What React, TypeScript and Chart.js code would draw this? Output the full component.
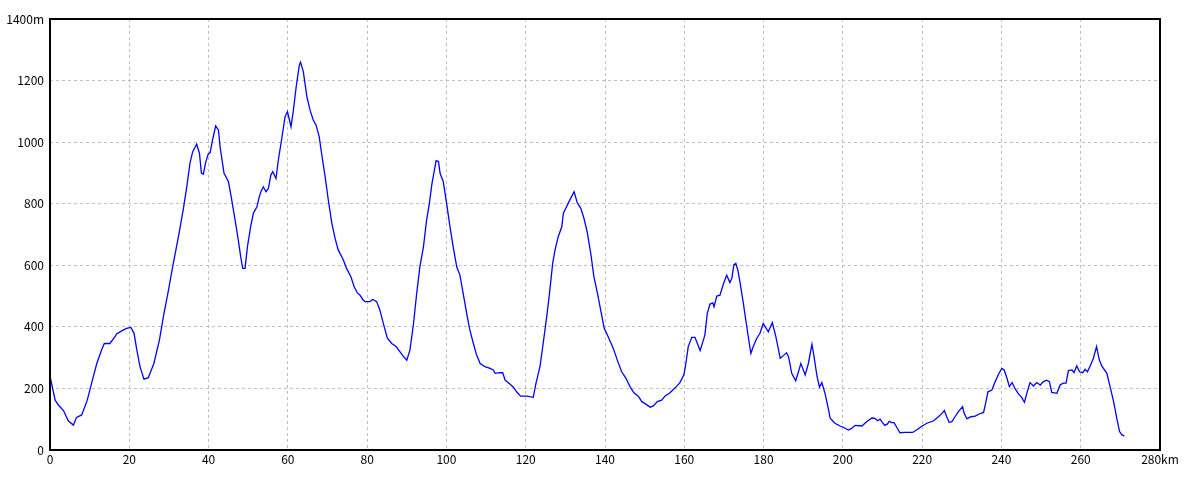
import React, { useEffect, useRef } from "react";
import { Chart, registerables } from "chart.js";

Chart.register(...registerables);

const distanceKm: number[] = [
  0, 1.3, 2.1, 3.4, 4.6, 5.9, 6.7, 8.0, 9.4, 10.5, 11.8, 13.0, 13.7, 15.1, 16.4, 16.8, 18.1, 19.3, 20.4,
  21.2, 21.9, 22.7, 23.7, 24.8, 26.2, 27.6, 28.6, 29.9, 31.1, 32.4, 33.6, 34.5, 35.3, 36.0, 37.0, 37.7,
  38.2, 38.7, 39.2, 39.9, 40.4, 41.0, 41.8, 42.5, 42.9, 43.9, 45.0, 45.7, 46.7, 47.5, 48.1, 48.6, 49.2,
  49.8, 50.6, 51.3, 52.2, 52.8, 53.2, 53.8, 54.5, 55.1, 55.7, 56.2, 57.0, 57.6, 58.4, 59.3, 59.9, 60.4,
  60.8, 61.4, 62.1, 62.9, 63.2, 63.9, 64.8, 65.6, 66.4, 67.1, 67.9, 68.5, 69.4, 70.2, 71.1, 71.9, 72.7,
  74.0, 74.8, 75.9, 76.7, 77.5, 78.2, 78.9, 79.5, 80.7, 81.4, 82.4, 83.2, 84.3, 85.1, 86.2, 87.3, 88.3,
  89.1, 90.0, 90.8, 91.7, 92.5, 93.3, 94.2, 95.0, 95.7, 96.3, 96.9, 97.4, 98.0, 98.4, 99.2, 100.1, 100.9,
  101.7, 102.6, 103.4, 104.3, 105.1, 105.9, 106.8, 107.6, 108.5, 109.7, 111.0, 111.8, 112.3, 113.5, 114.2,
  114.8, 116.0, 116.9, 117.7, 118.7, 120.3, 121.9, 122.6, 123.6, 124.4, 125.3, 126.0, 126.8, 127.4, 128.2,
  129.1, 129.5, 130.3, 131.2, 132.2, 133.0, 133.9, 134.7, 135.5, 136.4, 137.2, 138.1, 138.9, 139.8, 140.8,
  142.1, 143.1, 144.2, 145.3, 146.3, 147.3, 148.4, 149.3, 150.3, 151.4, 152.2, 153.2, 154.3, 155.1, 156.4,
  157.7, 158.9, 159.9, 160.4, 161.0, 161.9, 162.7, 163.3, 164.0, 164.7, 165.2, 165.8, 166.5, 167.2, 167.5,
  168.2, 169.0, 169.9, 170.7, 171.5, 172.0, 172.5, 173.0, 173.5, 174.1, 174.9, 175.7, 176.4, 176.8, 177.4,
  178.3, 179.1, 179.9, 181.2, 182.2, 183.1, 184.2, 185.2, 185.8, 186.3, 187.1, 188.1, 188.8, 189.4, 190.5,
  191.3, 192.2, 192.6, 193.5, 194.1, 194.7, 195.5, 196.4, 196.8, 198.0, 199.3, 200.1, 201.4, 202.2, 203.1,
  204.8, 206.0, 207.3, 208.1, 208.7, 209.4, 210.0, 210.6, 211.2, 211.7, 212.3, 212.9, 213.6, 214.4, 215.7,
  217.6, 218.6, 220.0, 221.2, 222.9, 224.1, 225.0, 225.6, 226.2, 226.8, 227.5, 228.3, 229.1, 230.2, 230.6,
  231.3, 232.3, 233.4, 234.4, 235.5, 236.1, 236.6, 237.6, 238.4, 239.3, 240.1, 240.7, 241.4, 242.0, 242.7,
  243.4, 244.3, 245.1, 245.8, 246.4, 247.2, 248.1, 248.9, 249.8, 250.6, 251.4, 252.1, 252.7, 254.0, 254.8,
  255.6, 256.3, 256.9, 257.8, 258.3, 259.0, 259.7, 260.5, 261.1, 261.7, 262.5, 263.2, 264.0, 264.7, 265.3,
  266.6, 267.4, 268.3, 269.1, 269.8, 270.4, 271.0,
];

const elevationM: number[] = [
  240, 162, 146, 128, 95, 81, 106, 114, 162, 217, 281, 325, 346, 346, 368, 377, 387, 395, 398,
  379, 325, 271, 230, 235, 281, 357, 433, 520, 606, 693, 780, 855, 931, 969, 993, 964,
  899, 896, 931, 961, 966, 1007, 1053, 1039, 985, 899, 872, 823, 747, 682, 628, 590, 590,
  660, 725, 769, 790, 823, 839, 855, 839, 850, 893, 904, 882, 942, 1007, 1083, 1099, 1072,
  1050, 1104, 1180, 1251, 1260, 1229, 1148, 1104, 1072, 1056, 1018, 964, 888, 812, 736, 688, 650,
  617, 590, 563, 531, 511, 503, 489, 482, 482, 489, 482, 455, 401, 363, 346, 336, 319,
  305, 292, 325, 411, 509, 595, 660, 747, 801, 861, 904, 940, 937, 899, 872, 796, 725,
  660, 595, 568, 503, 444, 390, 346, 309, 281, 271, 265, 260, 249, 251, 251,
  227, 214, 204, 189, 175, 175, 171, 217, 271, 346, 433, 509, 606, 650, 693,
  725, 769, 790, 814, 839, 803, 785, 752, 709, 639, 563, 509, 455, 395, 368,
  330, 292, 254, 233, 206, 186, 175, 157, 149, 139, 143, 157, 162, 175, 186,
  202, 219, 244, 281, 336, 366, 366, 346, 323, 352, 374, 444, 474, 478, 465,
  500, 503, 541, 568, 544, 558, 601, 606, 585, 541, 476, 406, 346, 314, 336,
  363, 379, 411, 384, 414, 368, 298, 309, 316, 303, 249, 225, 254, 281, 244,
  281, 343, 314, 238, 204, 219, 184, 130, 103, 87, 78, 74, 65, 70, 80,
  78, 92, 104, 103, 95, 100, 89, 80, 84, 93, 89, 89, 74, 56, 57,
  57, 65, 78, 87, 95, 108, 119, 128, 108, 90, 92, 108, 124, 141, 119,
  101, 108, 110, 117, 122, 157, 189, 195, 222, 247, 265, 260, 233, 206, 219,
  200, 182, 171, 155, 184, 219, 208, 219, 211, 222, 227, 222, 187, 184, 211,
  217, 217, 258, 260, 251, 273, 254, 251, 262, 254, 276, 298, 336, 292, 273,
  249, 206, 157, 103, 60, 49, 45,
];

const xTicks: number[] = [0, 20, 40, 60, 80, 100, 120, 140, 160, 180, 200, 220, 240, 260, 280];
const yTicks: number[] = [0, 200, 400, 600, 800, 1000, 1200, 1400];
const xUnit = "km";
const yUnit = "m";

const frame = {
  id: "frame",
  afterDraw(chart: any) {
    const { ctx, chartArea } = chart;
    ctx.save();
    ctx.strokeStyle = "#000";
    ctx.lineWidth = 2;
    ctx.strokeRect(chartArea.left, chartArea.top, chartArea.right - chartArea.left, chartArea.bottom - chartArea.top);
    ctx.restore();
  },
};

export default function App() {
  const ref = useRef<HTMLCanvasElement | null>(null);
  useEffect(() => {
    if (!ref.current) return;
    const points = distanceKm.map((x, i) => ({ x, y: elevationM[i] }));
    const font = { family: "'Noto Sans CJK JP', 'DejaVu Sans', sans-serif", size: 12 };
    const chart = new Chart(ref.current, {
      type: "line",
      data: {
        datasets: [
          {
            data: points,
            borderColor: "#0000ff",
            borderWidth: 1.3,
            pointRadius: 0,
            tension: 0,
            fill: false,
          },
        ],
      },
      options: {
        animation: false,
        responsive: false,
        maintainAspectRatio: false,
        layout: { padding: { top: 19, right: 40, left: 0, bottom: 0 } },
        plugins: { legend: { display: false }, tooltip: { enabled: false } },
        scales: {
          x: {
            type: "linear",
            min: 0,
            max: 280,
            afterBuildTicks: (s: any) => {
              s.ticks = xTicks.map((v) => ({ value: v }));
            },
            afterFit: (s: any) => {
              s.height = 30;
            },
            ticks: {
              color: "#000",
              font,
              padding: 2,
              maxRotation: 0,
              autoSkip: false,
              callback: (v: any) => (v === 280 ? `${v}${xUnit}` : `${v}`),
            },
            grid: {
              color: (c: any) => (c.tick && (c.tick.value === 0 || c.tick.value === 280) ? "rgba(0,0,0,0)" : "#c0c0c0"),
              lineWidth: 1,
              drawTicks: false,
            },
            border: { display: false, dash: [3, 3] },
          },
          y: {
            type: "linear",
            min: 0,
            max: 1400,
            afterBuildTicks: (s: any) => {
              s.ticks = yTicks.map((v) => ({ value: v }));
            },
            afterFit: (s: any) => {
              s.width = 50;
            },
            ticks: {
              color: "#000",
              font,
              padding: 6,
              autoSkip: false,
              callback: (v: any) => (v === 1400 ? `${v}${yUnit}` : `${v}`),
            },
            grid: {
              color: (c: any) => (c.tick && (c.tick.value === 0 || c.tick.value === 1400) ? "rgba(0,0,0,0)" : "#c0c0c0"),
              lineWidth: 1,
              drawTicks: false,
            },
            border: { display: false, dash: [3, 3] },
          },
        },
      },
      plugins: [frame],
    });
    return () => chart.destroy();
  }, []);
  return (
    <div style={{ position: "absolute", left: 0, top: 0, width: 1200, height: 480, background: "#fff" }}>
      <canvas ref={ref} width={1200} height={480} style={{ display: "block" }} />
    </div>
  );
}
